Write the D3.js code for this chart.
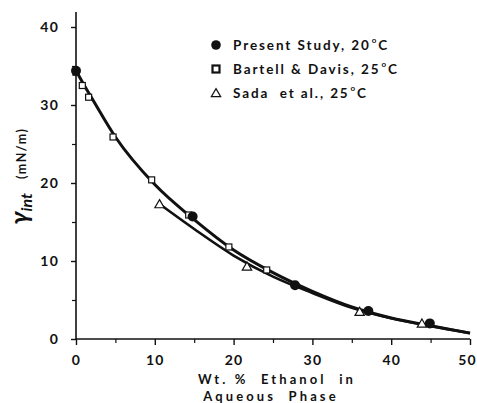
<!DOCTYPE html>
<html>
<head>
<meta charset="utf-8">
<script src="https://cdn.jsdelivr.net/npm/d3@7"></script>
<style>
    body { margin: 0; background: #fff; }
    svg { display: block; }
    text { font-family: "Lato", "DejaVu Sans", sans-serif; font-weight: 700; fill: #111; }
</style>
</head>
<body>
<svg id="chart" width="477" height="403"></svg>
<script>
// ==========================================================
// DATA
// ==========================================================

// Present Study, 20 C (filled circles)
const presentX = [0, 14.8, 27.8, 37.1, 44.9];
const presentY = [34.4, 15.7, 6.9, 3.6, 2.0];

// Bartell & Davis, 25 C (open squares)
const bartellX = [0, 0.8, 1.6, 4.7, 9.6, 14.3, 19.4, 24.2];
const bartellY = [34.2, 32.5, 31.0, 25.9, 20.4, 15.9, 11.8, 8.85];

// Sada et al., 25 C (open triangles)
const sadaX = [10.6, 21.7, 36.0, 43.9];
const sadaY = [17.3, 9.3, 3.5, 2.0];

// smooth fitted curves
const upperCurveX = [0, 1, 2, 5, 10, 15, 20, 25, 30, 35, 40, 45, 50];
const upperCurveY = [34.4, 32.6, 30.9, 25.9, 19.8, 15.3, 11.4, 8.5, 6.1, 4.1, 2.7, 1.7, 0.75];
const lowerCurveX = [10.6, 15, 20, 25, 30, 35, 40, 45, 50];
const lowerCurveY = [17.3, 14.1, 10.7, 8.0, 5.9, 4.0, 2.65, 1.65, 0.75];

const xTicks = [0, 10, 20, 30, 40, 50];
const yTicks = [0, 10, 20, 30, 40];
const xMinor = [5, 15, 25, 35, 45];
const yMinor = [5, 15, 25, 35];

const legendItems = [
    { label: "Present Study, 20", kind: "circle" },
    { label: "Bartell & Davis, 25", kind: "square" },
    { label: "Sada\u00A0 et al., 25", kind: "triangle" }
];

// ==========================================================
// CHART
// ==========================================================

const svg = d3.select("#chart");

const x = d3.scaleLinear().domain([0, 50]).range([76, 470]);
const y = d3.scaleLinear().domain([0, 40]).range([339, 27]);

// axes lines
svg.append("line")
    .attr("x1", x(0)).attr("x2", x(0))
    .attr("y1", 12).attr("y2", y(0))
    .attr("stroke", "#111").attr("stroke-width", 1.6);
svg.append("line")
    .attr("x1", x(0)).attr("x2", x(50))
    .attr("y1", y(0)).attr("y2", y(0))
    .attr("stroke", "#111").attr("stroke-width", 1.6);

// x axis ticks
const xAxis = d3.axisBottom(x).tickValues(xTicks).tickSize(6).tickPadding(8);
const gx = svg.append("g").attr("transform", `translate(0,${y(0)})`).call(xAxis);
gx.select(".domain").remove();
gx.selectAll("line").attr("stroke", "#111").attr("stroke-width", 1.4);
gx.selectAll("text")
    .attr("font-size", 14).attr("letter-spacing", 1.2)
    .style("font-family", null).attr("dy", "0.85em")
    .attr("dx", d => d === 50 ? -3 : 0);

const gxm = svg.append("g").attr("transform", `translate(0,${y(0)})`)
    .call(d3.axisBottom(x).tickValues(xMinor).tickSize(4).tickFormat(""));
gxm.select(".domain").remove();
gxm.selectAll("line").attr("stroke", "#111").attr("stroke-width", 1.2);

// y axis ticks
const yAxis = d3.axisLeft(y).tickValues(yTicks).tickSize(5).tickPadding(12);
const gy = svg.append("g").attr("transform", `translate(${x(0)},0)`).call(yAxis);
gy.select(".domain").remove();
gy.selectAll("line").attr("stroke", "#111").attr("stroke-width", 1.4);
gy.selectAll("text").attr("font-size", 14).attr("letter-spacing", 1.2).style("font-family", null);

const gym = svg.append("g").attr("transform", `translate(${x(0)},0)`)
    .call(d3.axisLeft(y).tickValues(yMinor).tickSize(4).tickFormat(""));
gym.select(".domain").remove();
gym.selectAll("line").attr("stroke", "#111").attr("stroke-width", 1.2);

// curves
const line = d3.line()
    .x(d => x(d[0]))
    .y(d => y(d[1]))
    .curve(d3.curveMonotoneX);

svg.append("path")
    .datum(d3.zip(upperCurveX, upperCurveY))
    .attr("d", line)
    .attr("fill", "none").attr("stroke", "#111").attr("stroke-width", 3);
svg.append("path")
    .datum(d3.zip(lowerCurveX, lowerCurveY))
    .attr("d", line)
    .attr("fill", "none").attr("stroke", "#111").attr("stroke-width", 2.6);

// markers
const triangle = d3.symbol().type(d3.symbolTriangle).size(38);

svg.append("g").selectAll("path")
    .data(d3.zip(sadaX, sadaY))
    .join("path")
    .attr("d", triangle)
    .attr("transform", d => `translate(${x(d[0])},${y(d[1]) + 1})`)
    .attr("fill", "#fff").attr("stroke", "#111").attr("stroke-width", 1.2);

svg.append("g").selectAll("rect")
    .data(d3.zip(bartellX, bartellY))
    .join("rect")
    .attr("x", d => x(d[0]) - 3)
    .attr("y", d => y(d[1]) - 3)
    .attr("width", 6).attr("height", 6)
    .attr("fill", "#fff").attr("stroke", "#111").attr("stroke-width", 1.2);

svg.append("g").selectAll("circle")
    .data(d3.zip(presentX, presentY))
    .join("circle")
    .attr("cx", d => x(d[0]))
    .attr("cy", d => y(d[1]))
    .attr("r", 5)
    .attr("fill", "#111");

// legend
const legend = svg.append("g").attr("transform", "translate(216,45)");
legendItems.forEach((item, i) => {
    const g = legend.append("g").attr("transform", `translate(0,${i * 24})`);
    if (item.kind === "circle") {
        g.append("circle").attr("r", 4.8).attr("fill", "#111");
    } else if (item.kind === "square") {
        g.append("rect").attr("x", -3.5).attr("y", -3.5).attr("width", 7).attr("height", 7)
            .attr("fill", "#fff").attr("stroke", "#111").attr("stroke-width", 2.2);
    } else {
        g.append("path").attr("d", triangle).attr("transform", "translate(0,1)")
            .attr("fill", "#fff").attr("stroke", "#111").attr("stroke-width", 1.2);
    }
    const t = g.append("text")
        .attr("x", 17).attr("y", 5)
        .attr("font-size", 13.5)
        .attr("letter-spacing", 1.9);
    t.append("tspan").text(item.label);
    t.append("tspan").attr("font-size", 8).attr("dy", -7).attr("dx", 1).text("o");
    t.append("tspan").attr("dy", 7).text("C");
});

// y axis title
const yt = svg.append("text")
    .attr("transform", "translate(28,176) rotate(-90)")
    .attr("text-anchor", "middle");
yt.append("tspan").attr("font-size", 25).attr("font-style", "italic").text("\u03B3");
yt.append("tspan").attr("font-size", 16).attr("font-style", "italic").attr("dy", 4).text("int");
yt.append("tspan").attr("font-size", 12.5).attr("dy", -6).attr("dx", 14).attr("letter-spacing", 1.5).text("(mN/m)");

// x axis title
svg.append("text")
    .attr("x", 277).attr("y", 384)
    .attr("text-anchor", "middle")
    .attr("font-size", 13)
    .attr("letter-spacing", 3.1)
    .text("Wt. %\u00A0 Ethanol\u00A0 in");
svg.append("text")
    .attr("x", 271).attr("y", 400.5)
    .attr("text-anchor", "middle")
    .attr("font-size", 13)
    .attr("letter-spacing", 3.1)
    .text("Aqueous\u00A0 Phase");
</script>
</body>
</html>
